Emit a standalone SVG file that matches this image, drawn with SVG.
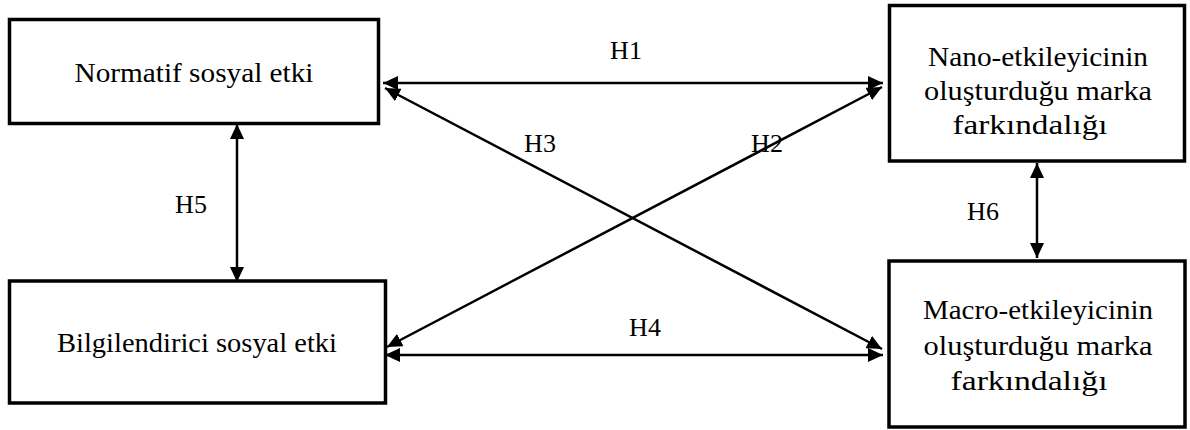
<svg xmlns="http://www.w3.org/2000/svg" width="1190" height="430" viewBox="0 0 1190 430">
<style>
.box{fill:#fff;stroke:#000;stroke-width:3.5}
.t{font-family:"Liberation Serif","Times New Roman",serif;font-size:26px;fill:#000;text-anchor:middle}
.n{font-size:27px}
.c{stroke:#000;stroke-width:2.5;fill:none;marker-start:url(#ah);marker-end:url(#ah)}
</style>
<defs>
<marker id="ah" viewBox="0 0 15 14" refX="15" refY="7" markerWidth="15" markerHeight="14" markerUnits="userSpaceOnUse" orient="auto-start-reverse">
<path d="M0,0 L15,7 L0,14 z" fill="#000"/>
</marker>
</defs>
<rect width="1190" height="430" fill="#fff"/>
<g id="n1">
<rect class="box" x="9.5" y="19.5" width="369" height="104"/>
<text class="t n" x="194" y="82" textLength="239" lengthAdjust="spacingAndGlyphs">Normatif sosyal etki</text>
</g>
<g id="n2">
<rect class="box" x="9.5" y="281" width="376" height="122"/>
<text class="t n" x="197" y="352" textLength="280" lengthAdjust="spacingAndGlyphs">Bilgilendirici sosyal etki</text>
</g>
<g id="n3">
<rect class="box" x="889.5" y="5.5" width="295" height="155.5"/>
<text class="t n" x="1038" y="66" textLength="220" lengthAdjust="spacingAndGlyphs">Nano-etkileyicinin</text>
<text class="t n" x="1038" y="100" textLength="228" lengthAdjust="spacingAndGlyphs">oluşturduğu marka</text>
<text class="t n" x="1030" y="134" textLength="155" lengthAdjust="spacingAndGlyphs">farkındalığı</text>
</g>
<g id="n4">
<rect class="box" x="889" y="261" width="296" height="166"/>
<text class="t n" x="1038" y="319" textLength="230" lengthAdjust="spacingAndGlyphs">Macro-etkileyicinin</text>
<text class="t n" x="1038" y="355" textLength="229" lengthAdjust="spacingAndGlyphs">oluşturduğu marka</text>
<text class="t n" x="1029" y="390" textLength="157" lengthAdjust="spacingAndGlyphs">farkındalığı</text>
</g>
<g id="connectors">
<line class="c" x1="383" y1="83" x2="883" y2="83"/>
<line class="c" x1="385" y1="355" x2="883" y2="355"/>
<line class="c" x1="387" y1="347" x2="882" y2="87"/>
<line class="c" x1="385" y1="88" x2="882" y2="349"/>
<line class="c" x1="237" y1="124" x2="237" y2="282"/>
<line class="c" x1="1037" y1="163" x2="1037" y2="258"/>
</g>
<g id="labels">
<text class="t" x="626" y="59">H1</text>
<text class="t" x="767" y="152">H2</text>
<text class="t" x="540" y="152">H3</text>
<text class="t" x="645" y="336">H4</text>
<text class="t" x="191" y="213">H5</text>
<text class="t" x="983" y="220">H6</text>
</g>
</svg>
